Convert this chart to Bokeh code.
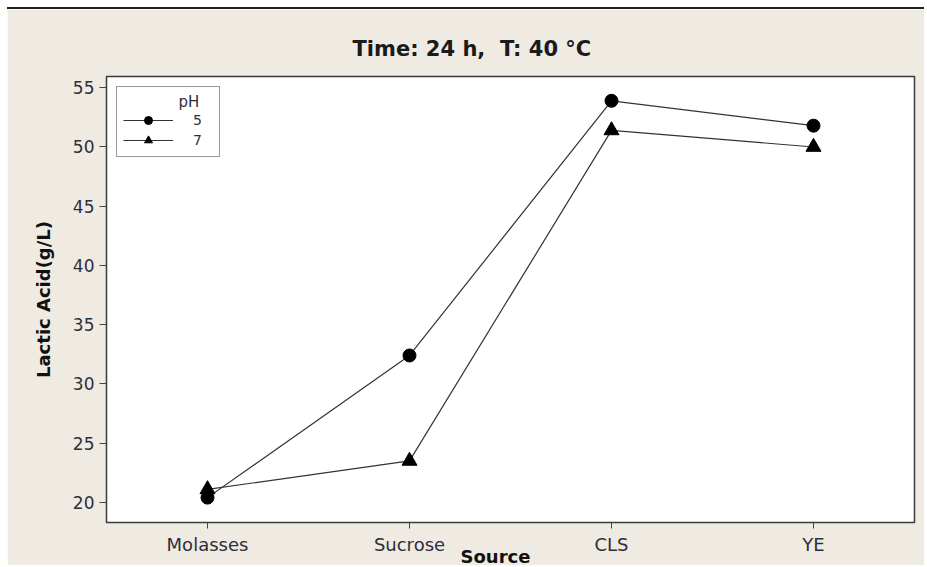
from bokeh.plotting import figure
from bokeh.models import Range1d, FactorRange, Legend, LegendItem, Div, FixedTicker, Title
from bokeh.core.properties import value
from bokeh.layouts import column
from bokeh.embed import file_html
from bokeh.resources import INLINE

# ---- data ----
sources = ["Molasses", "Sucrose", "CLS", "YE"]
ph_levels = ["5", "7"]
lactic_ph5 = [20.4, 32.4, 53.9, 51.8]
lactic_ph7 = [21.1, 23.5, 51.4, 50.0]
y_ticks = [20, 25, 30, 35, 40, 45, 50, 55]
title_text = "Time: 24 h,\u00a0 T: 40 \u00b0C"
x_title = "Source"
y_title = "Lactic Acid(g/L)"
legend_title = "pH"

BG = "#efeae2"
FONT = "DejaVu Sans"
TXT = "#2e2e3a"

p = figure(width=917, height=556,
           x_range=FactorRange(*sources, range_padding=0),
           y_range=Range1d(18.3, 55.95),
           output_backend="svg", toolbar_location=None, title=None,
           min_border_left=99, min_border_right=10, min_border_top=67, min_border_bottom=43,
           background_fill_color="white", border_fill_color=BG,
           outline_line_color="#3a3a3a", outline_line_width=1.5)

p.xgrid.visible = False
p.ygrid.visible = False

for ax in (p.xaxis[0], p.yaxis[0]):
    ax.axis_line_color = None
    ax.major_tick_in = 0
    ax.minor_tick_line_color = None
    ax.major_tick_line_color = "#444444"
    ax.major_label_text_font = FONT
    ax.major_label_text_color = TXT

p.xaxis.major_tick_out = 6
p.xaxis.major_label_text_font_size = "18px"
p.xaxis.major_label_standoff = 5

p.yaxis.ticker = FixedTicker(ticks=y_ticks)
p.yaxis.major_tick_out = 7
p.yaxis.major_label_text_font_size = "17px"
p.yaxis.major_label_standoff = 5
p.yaxis.axis_label = y_title
p.yaxis.axis_label_text_font = FONT
p.yaxis.axis_label_text_font_style = "bold"
p.yaxis.axis_label_text_font_size = "18px"
p.yaxis.axis_label_text_color = "#111111"
p.yaxis.axis_label_standoff = 16

r5_line = p.line(sources, lactic_ph5, line_color="#333333", line_width=1.2)
r5_pts = p.scatter(sources, lactic_ph5, marker="circle", size=13, color="black")
r7_line = p.line(sources, lactic_ph7, line_color="#333333", line_width=1.2)
r7_pts = p.scatter(sources, lactic_ph7, marker="triangle", size=15, color="black")

# legend heading "pH" (drawn as a text glyph inside the transparent legend box)
p.text(x=[sources[0]], y=[p.y_range.end], text=[legend_title],
       x_offset=-29, y_offset=25,
       text_font=value(FONT), text_font_size="15px", text_color=TXT,
       text_align="left", text_baseline="middle")

legend = Legend(items=[LegendItem(label=ph_levels[0], renderers=[r5_line, r5_pts]),
                       LegendItem(label=ph_levels[1], renderers=[r7_line, r7_pts])],
                location="top_left", title=" ", margin=10, padding=6, spacing=0,
                glyph_width=50, glyph_height=20, label_height=20, label_width=20,
                label_standoff=20, label_text_font=FONT, label_text_font_size="14px",
                label_text_color=TXT, title_text_font_size="15px", title_standoff=0,
                border_line_color="#333333", border_line_width=1.5,
                background_fill_alpha=0.0)
p.add_layout(legend)

p.add_layout(Title(text=title_text, align="left", offset=246, standoff=31,
                   text_font=FONT, text_font_size="21px", text_font_style="bold",
                   text_color="#1a1a1a"), "above")

p.add_layout(Title(text=x_title, align="left", offset=354, standoff=-24,
                   vertical_align="top",
                   text_font=FONT, text_font_size="18px", text_font_style="bold",
                   text_color="#111111"), "below")

top_rule = Div(text="", width=917, height=2, margin=0,
               styles={"background-color": "#222222"})

layout = column(top_rule, p, spacing=0, margin=(7, 0, 0, 7))
open("out.html", "w").write(file_html(layout, INLINE))
